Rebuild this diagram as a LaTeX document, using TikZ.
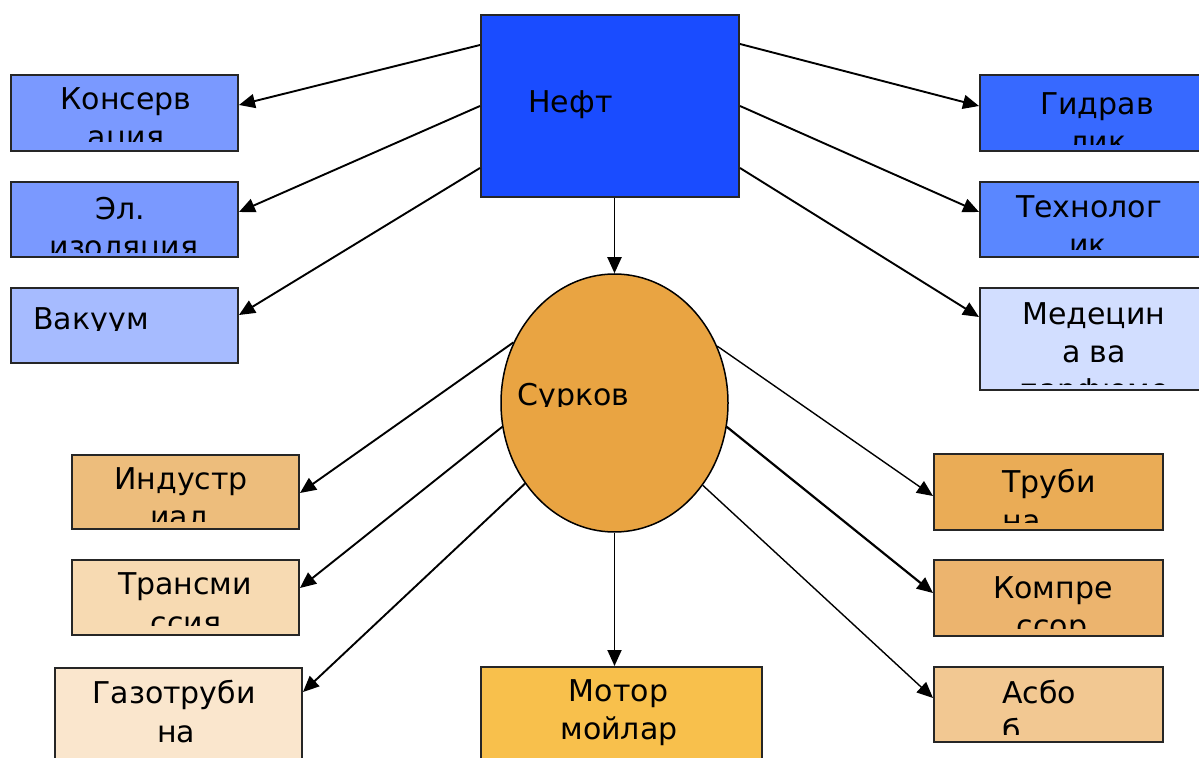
\documentclass[tikz,border=0pt]{standalone}
\usepackage{fontspec}
\setmainfont{DejaVu Sans}
\usetikzlibrary{arrows.meta,fit,shapes.geometric}
\definecolor{cneft}{HTML}{1A4CFF}
\definecolor{ckons}{HTML}{7A99FF}
\definecolor{cvak}{HTML}{A6BBFF}
\definecolor{cgidr}{HTML}{3769FF}
\definecolor{ctech}{HTML}{5A87FF}
\definecolor{cmed}{HTML}{D2DEFF}
\definecolor{csurk}{HTML}{E9A442}
\definecolor{cind}{HTML}{EDBD7C}
\definecolor{ctrans}{HTML}{F7DAB2}
\definecolor{cgaz}{HTML}{FAE6CD}
\definecolor{cmotor}{HTML}{F8C04C}
\definecolor{ctrub}{HTML}{EAAC56}
\definecolor{ckomp}{HTML}{ECB46E}
\definecolor{casb}{HTML}{F2C892}
\begin{document}
\begin{tikzpicture}[x=0.5pt,y=-0.5pt,
  box/.style={draw=black!85, line width=1pt, inner sep=0pt, rectangle},
  lbl/.style={anchor=base, inner sep=0pt, font=\fontsize{15}{18}\selectfont},
  lbll/.style={anchor=base west, inner sep=0pt, font=\fontsize{15}{18}\selectfont},
  con/.style={line width=0.95pt, -{Triangle[length=8pt,width=7pt]}},
]
\useasboundingbox (0,0) rectangle (1199,758);

% boxes
\node[box, fill=cneft, fit={(481,15) (739,197)}] (neft) {};
\node[box, fill=ckons, fit={(11,75) (238,151)}] (kons) {};
\node[box, fill=ckons, fit={(11,182) (238,257)}] (el) {};
\node[box, fill=cvak, fit={(11,288) (238,363)}] (vak) {};
\node[box, fill=cgidr, fit={(980,75) (1207,151)}] (gidr) {};
\node[box, fill=ctech, fit={(980,182) (1207,257)}] (tech) {};
\node[box, fill=cmed, fit={(980,288) (1207,390)}] (med) {};
\node[ellipse, draw=black, line width=0.75pt, fill=csurk, minimum width=113.5pt, minimum height=129pt, inner sep=0pt] (surk) at (614.5,403) {};
\node[box, fill=cind, fit={(72,455) (299,529)}] (ind) {};
\node[box, fill=ctrans, fit={(72,560) (299,635)}] (trans) {};
\node[box, fill=cgaz, fit={(55,668) (302,800)}] (gaz) {};
\node[box, fill=cmotor, fit={(481,667) (762,800)}] (motor) {};
\node[box, fill=ctrub, fit={(934,454) (1163,530)}] (trub) {};
\node[box, fill=ckomp, fit={(934,560) (1163,636)}] (komp) {};
\node[box, fill=casb, fit={(934,667) (1163,742)}] (asb) {};

% texts
\node[lbll] (tneft) at (528,113) {Нефт};
\begin{scope}
\clip (11,75) rectangle (238,142);
\node[lbl] (tkons1) at (126,110) {Консерв};
\node[lbl] (tkons2) at (126,148) {ация};
\end{scope}
\begin{scope}
\clip (11,182) rectangle (238,253);
\node[lbl] (tel1) at (120,220) {Эл.};
\node[lbl] (tel2) at (124,258) {изоляция};
\end{scope}
\begin{scope}
\clip (11,288) rectangle (238,331);
\node[lbll] (tvak) at (33,330) {Вакуум};
\end{scope}
\begin{scope}
\clip (980,75) rectangle (1207,145);
\node[lbl] (tgidr1) at (1097,115) {Гидрав};
\node[lbl] (tgidr2) at (1098,153) {лик};
\end{scope}
\begin{scope}
\clip (980,182) rectangle (1207,250);
\node[lbl] (ttech1) at (1089,218) {Технолог};
\node[lbl] (ttech2) at (1088,256) {ик};
\end{scope}
\begin{scope}
\clip (980,288) rectangle (1207,385);
\node[lbl] (tmed1) at (1094,325) {Медецин};
\node[lbl] (tmed2) at (1094,363) {а ва};
\node[lbl] (tmed3) at (1094,401) {парфюме};
\end{scope}
\begin{scope}
\clip (501,370) rectangle (728,406.5);
\node[lbll] (tsurk) at (517,406) {Сурков};
\end{scope}
\begin{scope}
\clip (72,455) rectangle (299,522);
\node[lbl] (tind1) at (181,490) {Индустр};
\node[lbl] (tind2) at (179,528) {иал};
\end{scope}
\begin{scope}
\clip (72,560) rectangle (299,625);
\node[lbl] (ttrans1) at (185,595) {Трансми};
\node[lbl] (ttrans2) at (186,633) {ссия};
\end{scope}
\node[lbl] (tgaz1) at (174,703) {Газотруби};
\node[lbl] (tgaz2) at (176,742) {на};
\node[lbl] (tmotor1) at (618.5,701) {Мотор};
\node[lbl] (tmotor2) at (619,739) {мойлар};
\begin{scope}
\clip (934,454) rectangle (1163,523);
\node[lbll] (ttrub1) at (1002,493) {Труби};
\node[lbll] (ttrub2) at (1002,531) {на};
\end{scope}
\begin{scope}
\clip (934,560) rectangle (1163,628);
\node[lbl] (tkomp1) at (1053,598) {Компре};
\node[lbl] (tkomp2) at (1052,636) {ссор};
\end{scope}
\begin{scope}
\clip (934,667) rectangle (1163,734);
\node[lbll] (tasb1) at (1002,703) {Асбо};
\node[lbll] (tasb2) at (1002,741) {б};
\end{scope}

% connectors
\draw[con] ([yshift=-15.5pt]neft.north west) -- ([yshift=4pt]kons.east);
\draw[con] (neft.west) -- ([yshift=3.75pt]el.east);
\draw[con] ([yshift=15pt]neft.south west) -- ([yshift=5.25pt]vak.east);
\draw[con] ([yshift=-15pt]neft.north east) -- ([yshift=3.5pt]gidr.west);
\draw[con] (neft.east) -- ([yshift=3.75pt]tech.west);
\draw[con] ([yshift=15pt]neft.south east) -- ([yshift=11pt]med.west);
\draw[con] (neft.south -| surk.north) -- (surk.north);

\draw[con] (surk.149) -- ([yshift=-0.5pt]ind.east);
\draw[con] (surk.192) -- ([yshift=4.75pt]trans.east);
\draw[con] (surk.222) -- ([yshift=-12.5pt]gaz.north east);
\draw[con, line width=0.7pt] (surk.29) -- ([yshift=-2pt]trub.west);
\draw[con, line width=1.1pt] (surk.348) -- ([yshift=2.5pt]komp.west);
\draw[con, line width=0.7pt] (surk.317) -- ([yshift=3.25pt]asb.west);
\draw[con] (surk.south) -- (surk.south |- motor.north);
\end{tikzpicture}
\end{document}
